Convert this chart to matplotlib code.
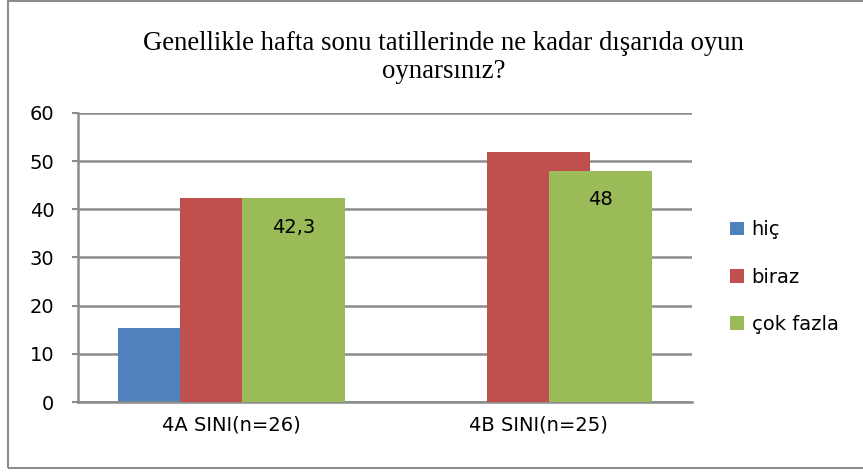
import numpy as np
import matplotlib.pyplot as plt
from matplotlib.patches import Rectangle

categories = ["4A SINI(n=26)", "4B SINI(n=25)"]
series = ["hiç", "biraz", "çok fazla"]
hic = [15.4, 0]
biraz = [42.3, 52]
cok_fazla = [42.3, 48]
labels_cok = ["42,3", "48"]
colors = ["#4F81BD", "#C0504D", "#9BBB59"]

font = "DejaVu Sans"

fig = plt.figure(figsize=(8.63, 4.72), dpi=100)
ax = fig.add_axes([0.0904, 0.1483, 0.7115, 0.6123])

x = np.arange(len(categories))
width = 0.336
offset = 0.202
handles = []
for i, (vals, name) in enumerate(zip([hic, biraz, cok_fazla], series)):
    b = ax.bar(x + (i - 1) * offset, vals, width, color=colors[i], label=name, zorder=2 + i)
    handles.append(b)

for xi, v, lab in zip(x, cok_fazla, labels_cok):
    ax.annotate(lab, (xi + offset, v), xytext=(0, -21), textcoords="offset points",
                ha="center", va="center", fontsize=14, family=font, zorder=10)

ax.set_xlim(-0.5, 1.5)
ax.set_ylim(0, 60)
ax.set_yticks(range(0, 61, 10))
ax.set_xticks(x)
ax.set_xticklabels(categories, fontsize=14, family=font)
for lab in ax.get_yticklabels():
    lab.set_fontsize(14)
    lab.set_family(font)
ax.yaxis.grid(True, color="#8c8c8c", linewidth=1.8, zorder=0)
ax.set_axisbelow(True)
for s in ["top", "right"]:
    ax.spines[s].set_visible(False)
ax.spines["left"].set_color("#8c8c8c")
ax.spines["left"].set_linewidth(1.8)
ax.spines["bottom"].set_color("#8c8c8c")
ax.spines["bottom"].set_linewidth(1.8)
ax.tick_params(axis="y", length=4, color="#8c8c8c", width=1.5, pad=13)
ax.tick_params(axis="x", length=0, pad=10)

fig.legend(handles=handles, labels=series, loc="center left", bbox_to_anchor=(0.826, 0.413),
           frameon=False, prop={"family": font, "size": 14}, handlelength=0.7,
           handleheight=0.7, handletextpad=0.4, labelspacing=1.45)

fig.text(0.514, 0.878, "Genellikle hafta sonu tatillerinde ne kadar dışarıda oyun\noynarsınız?",
         ha="center", va="center", fontsize=19.3, family="Liberation Serif", linespacing=1.2)

fig.patches.append(Rectangle((0.009, 0.008), 1.05, 0.99, transform=fig.transFigure,
                             fill=False, edgecolor="#8c8c8c", linewidth=1.5))

fig.savefig("out.png", dpi=100)
